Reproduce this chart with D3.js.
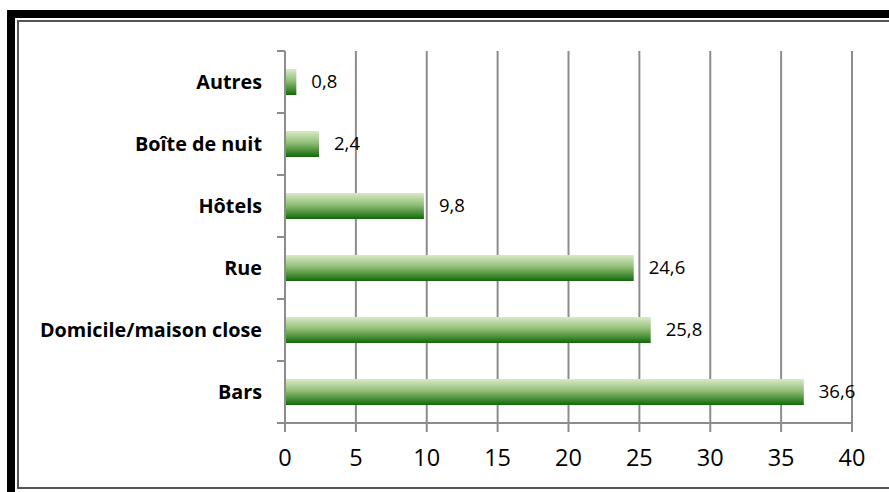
<!DOCTYPE html>
<html>
<head>
<meta charset="utf-8">
<script src="https://cdn.jsdelivr.net/npm/d3@7"></script>
<style>
  html, body { margin: 0; padding: 0; background: #fff; }
  svg { display: block; }
</style>
</head>
<body>
<div id="chart"></div>
<script>
// data, top to bottom
var categories = ["Autres", "Boîte de nuit", "Hôtels", "Rue", "Domicile/maison close", "Bars"];
var values = [0.8, 2.4, 9.8, 24.6, 25.8, 36.6];
var xTicks = [0, 5, 10, 15, 20, 25, 30, 35, 40];

var width = 889, height = 492;
var plotLeft = 285, plotRight = 852, plotTop = 51, plotBottom = 423;

var svg = d3.select('#chart').append('svg')
  .attr('width', width)
  .attr('height', height);

// frames
svg.append('rect').attr('x', 11).attr('y', 14).attr('width', 900).attr('height', 500)
  .attr('fill', 'none').attr('stroke', '#000').attr('stroke-width', 8);
svg.append('rect').attr('x', 18).attr('y', 21).attr('width', 900).attr('height', 467)
  .attr('fill', '#fff').attr('stroke', '#555').attr('stroke-width', 2);

var defs = svg.append('defs');
var grad = defs.append('linearGradient').attr('id', 'barGrad')
  .attr('x1', 0).attr('y1', 0).attr('x2', 0).attr('y2', 1);
grad.append('stop').attr('offset', '0%').attr('stop-color', '#d8eac8');
grad.append('stop').attr('offset', '45%').attr('stop-color', '#93bf77');
grad.append('stop').attr('offset', '80%').attr('stop-color', '#3f8a30');
grad.append('stop').attr('offset', '100%').attr('stop-color', '#15650d');

var x = d3.scaleLinear().domain([0, 40]).range([plotLeft, plotRight]);
var y = d3.scaleBand().domain(categories).range([plotTop, plotBottom]).paddingInner(0.58).paddingOuter(0.29);
var yStep = d3.scaleBand().domain(categories).range([plotTop, plotBottom]);

var gridColor = '#8c8c8c';

// vertical gridlines + ticks below axis
svg.append('g').selectAll('line').data(xTicks).enter().append('line')
  .attr('x1', function(d) { return x(d); })
  .attr('x2', function(d) { return x(d); })
  .attr('y1', plotTop)
  .attr('y2', plotBottom + 9)
  .attr('stroke', gridColor)
  .attr('stroke-width', 2);

// x axis line
svg.append('line').attr('x1', plotLeft).attr('x2', plotRight).attr('y1', plotBottom).attr('y2', plotBottom)
  .attr('stroke', gridColor).attr('stroke-width', 2);

// y axis category ticks
var yTickPos = categories.map(function(c) { return yStep(c); }).concat([plotBottom]);
svg.append('g').selectAll('line').data(yTickPos).enter().append('line')
  .attr('x1', plotLeft - 8).attr('x2', plotLeft)
  .attr('y1', function(d) { return d; })
  .attr('y2', function(d) { return d; })
  .attr('stroke', gridColor).attr('stroke-width', 2);

// bars
svg.append('g').selectAll('rect').data(values).enter().append('rect')
  .attr('x', x(0) + 1)
  .attr('y', function(d, i) { return y(categories[i]); })
  .attr('width', function(d) { return x(d) - x(0) - 1; })
  .attr('height', y.bandwidth())
  .attr('fill', 'url(#barGrad)');

// value labels
svg.append('g').selectAll('text').data(values).enter().append('text')
  .attr('x', function(d) { return x(d) + 15; })
  .attr('y', function(d, i) { return y(categories[i]) + y.bandwidth() / 2; })
  .attr('dy', '0.35em')
  .attr('font-family', 'Open Sans')
  .attr('font-size', 18.5)
  .attr('fill', '#000')
  .text(function(d) { return String(d).replace('.', ','); });

// category labels
svg.append('g').selectAll('text').data(categories).enter().append('text')
  .attr('x', 262)
  .attr('y', function(c) { return yStep(c) + yStep.bandwidth() / 2; })
  .attr('dy', '0.35em')
  .attr('text-anchor', 'end')
  .attr('font-family', 'Open Sans')
  .attr('font-weight', 'bold')
  .attr('font-size', 19.8)
  .attr('fill', '#000')
  .text(function(c) { return c; });

// x tick labels
svg.append('g').selectAll('text').data(xTicks).enter().append('text')
  .attr('x', function(d) { return x(d); })
  .attr('y', 466)
  .attr('text-anchor', 'middle')
  .attr('font-family', 'Open Sans')
  .attr('font-size', 23.5)
  .attr('fill', '#000')
  .text(function(d) { return d; });
</script>
</body>
</html>
